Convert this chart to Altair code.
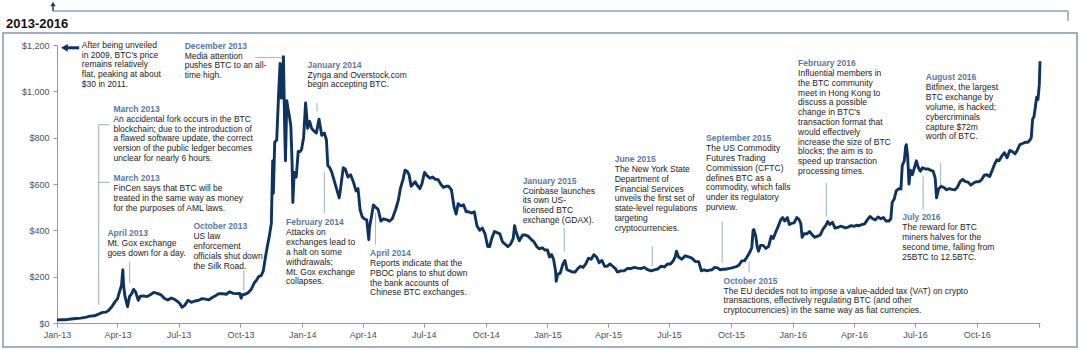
import altair as alt
import pandas as pd

# ---------------- data ----------------
price_dates = [
    "2013-01-01", "2013-01-08", "2013-01-15", "2013-01-22", "2013-01-29", "2013-02-05", "2013-02-12",
    "2013-02-19", "2013-02-26", "2013-03-05", "2013-03-10", "2013-03-15", "2013-03-19", "2013-03-24",
    "2013-03-28", "2013-04-01", "2013-04-04", "2013-04-07", "2013-04-09", "2013-04-10", "2013-04-12",
    "2013-04-16", "2013-04-19", "2013-04-22", "2013-04-25", "2013-04-28", "2013-05-02", "2013-05-05",
    "2013-05-10", "2013-05-15", "2013-05-20", "2013-05-25", "2013-05-30", "2013-06-05", "2013-06-10",
    "2013-06-15", "2013-06-20", "2013-06-25", "2013-06-30", "2013-07-03", "2013-07-06", "2013-07-10",
    "2013-07-15", "2013-07-20", "2013-07-25", "2013-07-30", "2013-08-05", "2013-08-10", "2013-08-15",
    "2013-08-20", "2013-08-25", "2013-08-30", "2013-09-05", "2013-09-10", "2013-09-15", "2013-09-20",
    "2013-09-25", "2013-09-30", "2013-10-02", "2013-10-04", "2013-10-08", "2013-10-12", "2013-10-17",
    "2013-10-22", "2013-10-25", "2013-10-28", "2013-11-01", "2013-11-04", "2013-11-07", "2013-11-10",
    "2013-11-13", "2013-11-16", "2013-11-18", "2013-11-19", "2013-11-21", "2013-11-24", "2013-11-27",
    "2013-11-29", "2013-12-01", "2013-12-03", "2013-12-04", "2013-12-06", "2013-12-07", "2013-12-09",
    "2013-12-11", "2013-12-13", "2013-12-15", "2013-12-17", "2013-12-18", "2013-12-20", "2013-12-23",
    "2013-12-26", "2013-12-29", "2013-12-31",
    "2014-01-03", "2014-01-06", "2014-01-09", "2014-01-12", "2014-01-15", "2014-01-18", "2014-01-22",
    "2014-01-26", "2014-01-30", "2014-02-03", "2014-02-06", "2014-02-08", "2014-02-11", "2014-02-14",
    "2014-02-18", "2014-02-21", "2014-02-25", "2014-02-27", "2014-03-03", "2014-03-06", "2014-03-10",
    "2014-03-14", "2014-03-18", "2014-03-22", "2014-03-25", "2014-03-28", "2014-03-31", "2014-04-03",
    "2014-04-07", "2014-04-10", "2014-04-11", "2014-04-14", "2014-04-17", "2014-04-20", "2014-04-24",
    "2014-04-28", "2014-05-02", "2014-05-07", "2014-05-11", "2014-05-15", "2014-05-20", "2014-05-24",
    "2014-05-27", "2014-05-31", "2014-06-03", "2014-06-06", "2014-06-09", "2014-06-12", "2014-06-15",
    "2014-06-18", "2014-06-21", "2014-06-25", "2014-06-28", "2014-07-02", "2014-07-06", "2014-07-10",
    "2014-07-14", "2014-07-18", "2014-07-22", "2014-07-26", "2014-07-30", "2014-08-03", "2014-08-07",
    "2014-08-11", "2014-08-15", "2014-08-18", "2014-08-21", "2014-08-25", "2014-08-29", "2014-09-02",
    "2014-09-06", "2014-09-10", "2014-09-14", "2014-09-18", "2014-09-22", "2014-09-26", "2014-09-30",
    "2014-10-04", "2014-10-07", "2014-10-10", "2014-10-14", "2014-10-18", "2014-10-22", "2014-10-26",
    "2014-10-30", "2014-11-03", "2014-11-07", "2014-11-11", "2014-11-13", "2014-11-15", "2014-11-20",
    "2014-11-25", "2014-11-29", "2014-12-03", "2014-12-08", "2014-12-12", "2014-12-16", "2014-12-20",
    "2014-12-24", "2014-12-28",
    "2015-01-01", "2015-01-04", "2015-01-07", "2015-01-10", "2015-01-13", "2015-01-14", "2015-01-16",
    "2015-01-20", "2015-01-24", "2015-01-27", "2015-01-30", "2015-02-03", "2015-02-07", "2015-02-11",
    "2015-02-15", "2015-02-19", "2015-02-23", "2015-02-27", "2015-03-03", "2015-03-07", "2015-03-11",
    "2015-03-15", "2015-03-19", "2015-03-23", "2015-03-27", "2015-03-31", "2015-04-04", "2015-04-08",
    "2015-04-12", "2015-04-15", "2015-04-20", "2015-04-25", "2015-04-30", "2015-05-05", "2015-05-10",
    "2015-05-15", "2015-05-20", "2015-05-25", "2015-05-30", "2015-06-04", "2015-06-09", "2015-06-14",
    "2015-06-19", "2015-06-24", "2015-06-29", "2015-07-03", "2015-07-07", "2015-07-10", "2015-07-12",
    "2015-07-15", "2015-07-20", "2015-07-25", "2015-07-30", "2015-08-04", "2015-08-09", "2015-08-14",
    "2015-08-18", "2015-08-22", "2015-08-26", "2015-08-30", "2015-09-03", "2015-09-07", "2015-09-11",
    "2015-09-15", "2015-09-19", "2015-09-23", "2015-09-27", "2015-10-01", "2015-10-05", "2015-10-09",
    "2015-10-13", "2015-10-17", "2015-10-21", "2015-10-25", "2015-10-29", "2015-11-01", "2015-11-03",
    "2015-11-04", "2015-11-05", "2015-11-07", "2015-11-09", "2015-11-11", "2015-11-14", "2015-11-18",
    "2015-11-22", "2015-11-26", "2015-11-30", "2015-12-03", "2015-12-07", "2015-12-10", "2015-12-14",
    "2015-12-17", "2015-12-20", "2015-12-24", "2015-12-27", "2015-12-30",
    "2016-01-03", "2016-01-07", "2016-01-10", "2016-01-13", "2016-01-15", "2016-01-18", "2016-01-22",
    "2016-01-26", "2016-01-30", "2016-02-03", "2016-02-07", "2016-02-11", "2016-02-15", "2016-02-19",
    "2016-02-22", "2016-02-25", "2016-02-29", "2016-03-04", "2016-03-08", "2016-03-12", "2016-03-16",
    "2016-03-20", "2016-03-24", "2016-03-28", "2016-04-01", "2016-04-05", "2016-04-09", "2016-04-13",
    "2016-04-17", "2016-04-21", "2016-04-25", "2016-04-29", "2016-05-03", "2016-05-07", "2016-05-11",
    "2016-05-15", "2016-05-19", "2016-05-23", "2016-05-26", "2016-05-28", "2016-05-31", "2016-06-03",
    "2016-06-07", "2016-06-10", "2016-06-12", "2016-06-15", "2016-06-17", "2016-06-18", "2016-06-20",
    "2016-06-22", "2016-06-24", "2016-06-27", "2016-06-30", "2016-07-03", "2016-07-06", "2016-07-09",
    "2016-07-12", "2016-07-16", "2016-07-20", "2016-07-24", "2016-07-28", "2016-07-31", "2016-08-02",
    "2016-08-05", "2016-08-09", "2016-08-13", "2016-08-17", "2016-08-21", "2016-08-25", "2016-08-29",
    "2016-09-02", "2016-09-06", "2016-09-10", "2016-09-14", "2016-09-18", "2016-09-22", "2016-09-26",
    "2016-09-30", "2016-10-04", "2016-10-08", "2016-10-12", "2016-10-16", "2016-10-20", "2016-10-24",
    "2016-10-28", "2016-10-31", "2016-11-03", "2016-11-07", "2016-11-11", "2016-11-15", "2016-11-19",
    "2016-11-23", "2016-11-27", "2016-11-30", "2016-12-04", "2016-12-08", "2016-12-12", "2016-12-16",
    "2016-12-19", "2016-12-21", "2016-12-23", "2016-12-25", "2016-12-27", "2016-12-29", "2016-12-31",
    "2017-01-02", "2017-01-03",
]
price_values = [
    13.3, 14, 14.3, 17, 19.5, 21, 24.5,
    29.5, 31, 40, 46, 47, 55, 72,
    90, 104, 135, 162, 230, 165, 118,
    70, 115, 126, 145, 134, 98, 116,
    117, 114, 122, 132, 128, 121, 106,
    99, 108, 102, 92, 83, 68, 76,
    98, 89, 95, 97, 105, 103, 100,
    110, 118, 127, 126, 124, 135, 128,
    127, 128, 107, 122, 124, 130, 145,
    175, 185, 200, 205, 225, 280, 330,
    375, 430, 700, 560, 780, 790, 1000,
    1120, 970, 1090, 1150, 820, 700, 960,
    920, 890, 850, 680, 520, 650, 630,
    740, 740, 750,
    800, 950, 840, 870, 840, 830, 820,
    880, 810, 820, 790, 680, 670, 650,
    610, 580, 540, 580, 670, 665, 630,
    640, 610, 570, 580, 490, 460, 450,
    445, 360, 410, 460, 510, 500, 490,
    440, 450, 445, 440, 450, 490, 530,
    580, 620, 660, 655, 640, 590, 600,
    610, 595, 580, 600, 650, 635, 625,
    630, 620, 620, 600, 585, 590, 590,
    575, 500, 470, 515, 505, 510, 480,
    480, 475, 480, 420, 400, 410, 385,
    330, 330, 365, 395, 390, 385, 350,
    340, 330, 340, 365, 420, 395, 355,
    380, 380, 375, 360, 350, 330, 320,
    325, 315,
    315, 285, 295, 275, 225, 180, 210,
    215, 255, 270, 230, 225, 220, 220,
    235, 245, 240, 255, 280, 275, 295,
    285, 260, 270, 245, 245, 255, 245,
    235, 220, 225, 225, 235, 235, 240,
    237, 235, 240, 230, 225, 229, 233,
    245, 242, 255, 255, 268, 285, 310,
    285, 275, 290, 285, 280, 265, 265,
    225, 230, 225, 228, 230, 240, 238,
    230, 232, 232, 235, 237, 240, 243,
    250, 268, 268, 285, 305, 325, 400,
    403, 395, 375, 330, 310, 335, 335,
    322, 330, 375, 365, 395, 415, 445,
    455, 440, 455, 425, 430,
    432, 455, 448, 430, 370, 385, 385,
    395, 380, 370, 375, 380, 405, 420,
    438, 425, 435, 410, 412, 418, 415,
    410, 415, 420, 417, 422, 420, 425,
    428, 445, 460, 450, 445, 458, 450,
    455, 440, 440, 450, 520, 535, 570,
    580, 578, 680, 700, 760, 770, 720,
    600, 660, 640, 670, 700, 670, 655,
    670, 665, 665, 660, 655, 625, 540,
    578, 590, 585, 575, 580, 577, 575,
    585, 610, 620, 610, 608, 595, 604,
    610, 610, 618, 638, 640, 632, 660,
    690, 705, 700, 720, 735, 713, 745,
    740, 730, 745, 770, 775, 780, 780,
    790, 800, 880, 890, 930, 975, 965,
    1030, 1130,
]

note_titles = [
    "", "December 2013", "January  2014", "March 2013", "March 2013", "April 2013",
    "October 2013", "February 2014", "April 2014", "January 2015", "June 2015",
    "September 2015", "October 2015", "February 2016", "July 2016", "August 2016",
]
note_texts = [
    "After being unveiled\nin 2009, BTC's price\nremains relatively\nflat, peaking at about\n$30 in 2011.",
    "Media attention\npushes BTC to an all-\ntime high.",
    "Zynga and Overstock.com\nbegin accepting BTC.",
    "An accidental fork occurs in the BTC\nblockchain; due to the introduction of\na flawed software update, the correct\nversion of the public ledger becomes\nunclear for nearly 6 hours.",
    "FinCen says that BTC will be\ntreated in the same way as money\nfor the purposes of AML laws.",
    "Mt. Gox exchange\ngoes down for a day.",
    "US law\nenforcement\nofficials shut down\nthe Silk Road.",
    "Attacks on\nexchanges lead to\na halt on some\nwithdrawals;\nMt. Gox exchange\ncollapses.",
    "Reports indicate that the\nPBOC plans to shut down\nthe bank accounts of\nChinese BTC exchanges.",
    "Coinbase launches\nits own US-\nlicensed BTC\nexchange (GDAX).",
    "The New York State\nDepartment of\nFinancial Services\nunveils the first set of\nstate-level regulations\ntargeting\ncryptocurrencies.",
    "The US Commodity\nFutures Trading\nCommission (CFTC)\ndefines BTC as a\ncommodity, which falls\nunder its regulatory\npurview.",
    "The EU decides not to impose a value-added tax (VAT) on crypto\ntransactions, effectively regulating BTC (and other\ncryptocurrencies) in the same way as fiat currencies.",
    "Influential members in\nthe BTC community\nmeet in Hong Kong to\ndiscuss a possible\nchange in BTC's\ntransaction format that\nwould effectively\nincrease the size of BTC\nblocks; the aim is to\nspeed up transaction\nprocessing times.",
    "The reward for BTC\nminers halves for the\nsecond time, falling from\n25BTC to 12.5BTC.",
    "Bitfinex, the largest\nBTC exchange by\nvolume, is hacked;\ncybercriminals\ncapture $72m\nworth of BTC.",
]
note_dates = [
    "2013-02-07", "2013-07-10", "2014-01-09", "2013-03-26", "2013-03-26", "2013-03-17",
    "2013-07-23", "2013-12-08", "2014-04-12", "2014-11-25", "2015-04-11",
    "2015-08-25", "2015-09-20", "2016-01-09", "2016-06-12", "2016-07-17",
]
note_levels = [1244, 1197, 1115, 925, 624, 388, 417, 434, 302, 615, 708, 798, 183, 1122, 456, 1060]

link_dates = [
    "2014-01-23", "2013-03-04", "2013-04-19", "2013-10-06", "2014-02-03", "2014-04-20",
    "2015-01-26", "2015-06-06", "2015-09-18", "2015-10-28", "2016-02-20", "2016-07-13", "2016-08-08",
]
link_from = [951, 856, 266, 230, 654, 476, 410, 331, 438, 266, 604, 633, 690]
link_to = [913, 79, 173, 141, 475, 338, 309, 244, 259, 218, 460, 489, 597]

hlink_start = ["2013-10-23", "2013-03-04", "2013-03-04"]
hlink_end = ["2013-12-04", "2013-03-20", "2013-03-20"]
hlink_level = [1146, 856, 607]

arrow_start = ["2013-01-14"]
arrow_end = ["2013-02-03"]
arrow_head = ["2013-01-12"]
arrow_level = [1188]

x_ticks = ["2013-01-01", "2013-04-01", "2013-07-01", "2013-10-01", "2014-01-01", "2014-04-01",
           "2014-07-01", "2014-10-01", "2015-01-01", "2015-04-01", "2015-07-01", "2015-10-01",
           "2016-01-01", "2016-04-01", "2016-07-01", "2016-10-01", "2017-01-01"]
y_ticks = [0, 200, 400, 600, 800, 1000, 1200]

# ---------------- styles ----------------
FONT = "Liberation Sans"
NAVY = "#0e335e"
NOTE_BLUE = "#5878a4"
LINK = "#a8bbd0"
FRAME = "#9fb0c6"


def dt(s):
    y, m, d = (int(v) for v in s.split("-"))
    return alt.DateTime(year=y, month=m, date=d, utc=True)


x_scale = alt.Scale(type="utc", domain=[dt("2013-01-01"), dt("2017-01-03")])
y_scale = alt.Scale(domain=[0, 1200], nice=False)

x_axis = alt.Axis(
    values=[dt(s) for s in x_ticks],
    labelExpr="utcyear(datum.value) >= 2017 ? '' : utcFormat(datum.value, '%b-%y')",
    title=None, grid=False, tickSize=4, labelPadding=3, labelFontSize=9,
    labelFont=FONT, labelColor="#505050", domainColor="#9a9a9a", tickColor="#9a9a9a",
    labelFlush=False, labelOverlap=False,
)
y_axis = alt.Axis(
    values=y_ticks, format="$,.0f", title=None, grid=False, tickSize=4, labelPadding=4,
    labelFontSize=9, labelFont=FONT, labelColor="#505050", domainColor="#9a9a9a",
    tickColor="#9a9a9a", labelFlush=False,
)

prices = pd.DataFrame({"date": price_dates, "price": price_values})
notes = pd.DataFrame({"date": note_dates, "level": note_levels,
                      "title": note_titles, "body": note_texts})
links = pd.DataFrame({"date": link_dates, "y1": link_from, "y2": link_to})
hlinks = pd.DataFrame({"d1": hlink_start, "d2": hlink_end, "level": hlink_level})
arrow = pd.DataFrame({"d1": arrow_start, "d2": arrow_end, "head": arrow_head, "level": arrow_level})
one = pd.DataFrame({"k": [0]})

# decorations (frame, header rule, title)
frame = alt.Chart(one).mark_rect(filled=False, color=FRAME, strokeWidth=2).encode(
    x=alt.value(-54), x2=alt.value(1020), y=alt.value(-12), y2=alt.value(302))
top_rule = alt.Chart(one).mark_rule(color="#8ea2bb", strokeWidth=1.5).encode(
    x=alt.value(-4), x2=alt.value(1011), y=alt.value(-34))
top_drop = alt.Chart(one).mark_rule(color="#8ea2bb", strokeWidth=1.5).encode(
    x=alt.value(1011), y=alt.value(-34), y2=alt.value(-24))
top_up = alt.Chart(one).mark_rule(color="#1f3d66", strokeWidth=1.5).encode(
    x=alt.value(-4), y=alt.value(-34), y2=alt.value(-40))
top_head = alt.Chart(one).mark_point(shape="triangle-up", filled=True, size=28,
                                     color="#1f3d66", opacity=1).encode(
    x=alt.value(-4), y=alt.value(-41))
title = alt.Chart(one).mark_text(text="2013-2016", font=FONT, fontSize=13, fontWeight="bold",
                                 align="left", baseline="middle", color="#111111").encode(
    x=alt.value(-51), y=alt.value(-21))

line = alt.Chart(prices).mark_line(color=NAVY, strokeWidth=2.9, strokeJoin="round").encode(
    x=alt.X("date:T", scale=x_scale, axis=x_axis),
    y=alt.Y("price:Q", scale=y_scale, axis=y_axis),
)

vlinks = alt.Chart(links).mark_rule(color=LINK, strokeWidth=1.2).encode(
    x=alt.X("date:T", scale=x_scale), y=alt.Y("y1:Q", scale=y_scale), y2="y2:Q")
hl = alt.Chart(hlinks).mark_rule(color=LINK, strokeWidth=1.2).encode(
    x=alt.X("d1:T", scale=x_scale), x2="d2:T", y=alt.Y("level:Q", scale=y_scale))

arrow_line = alt.Chart(arrow).mark_rule(color=NAVY, strokeWidth=3).encode(
    x=alt.X("d1:T", scale=x_scale), x2="d2:T", y=alt.Y("level:Q", scale=y_scale))
arrow_tip = alt.Chart(arrow).mark_point(shape="triangle-left", filled=True, size=60,
                                        color=NAVY, opacity=1).encode(
    x=alt.X("head:T", scale=x_scale), y=alt.Y("level:Q", scale=y_scale))

note_title = alt.Chart(notes).mark_text(font=FONT, fontSize=8.5, fontWeight="bold",
                                        align="left", baseline="middle", color=NOTE_BLUE).encode(
    x=alt.X("date:T", scale=x_scale), y=alt.Y("level:Q", scale=y_scale), text="title:N")
note_body = alt.Chart(notes).mark_text(font=FONT, fontSize=8.5, align="left", baseline="top",
                                       dy=6, lineBreak="\n", lineHeight=9.8,
                                       color="#222222").encode(
    x=alt.X("date:T", scale=x_scale), y=alt.Y("level:Q", scale=y_scale), text="body:N")

chart = alt.layer(
    frame, top_rule, top_drop, top_up, top_head, title,
    vlinks, hl, line, arrow_line, arrow_tip, note_title, note_body,
).properties(
    width=983, height=278,
    autosize=alt.AutoSizeParams(type="none"),
    padding={"left": 57, "top": 45, "right": 40, "bottom": 27},
    background="white",
).configure_view(strokeWidth=0)

chart.save("out.html", embed_options={"renderer": "svg", "actions": False})
